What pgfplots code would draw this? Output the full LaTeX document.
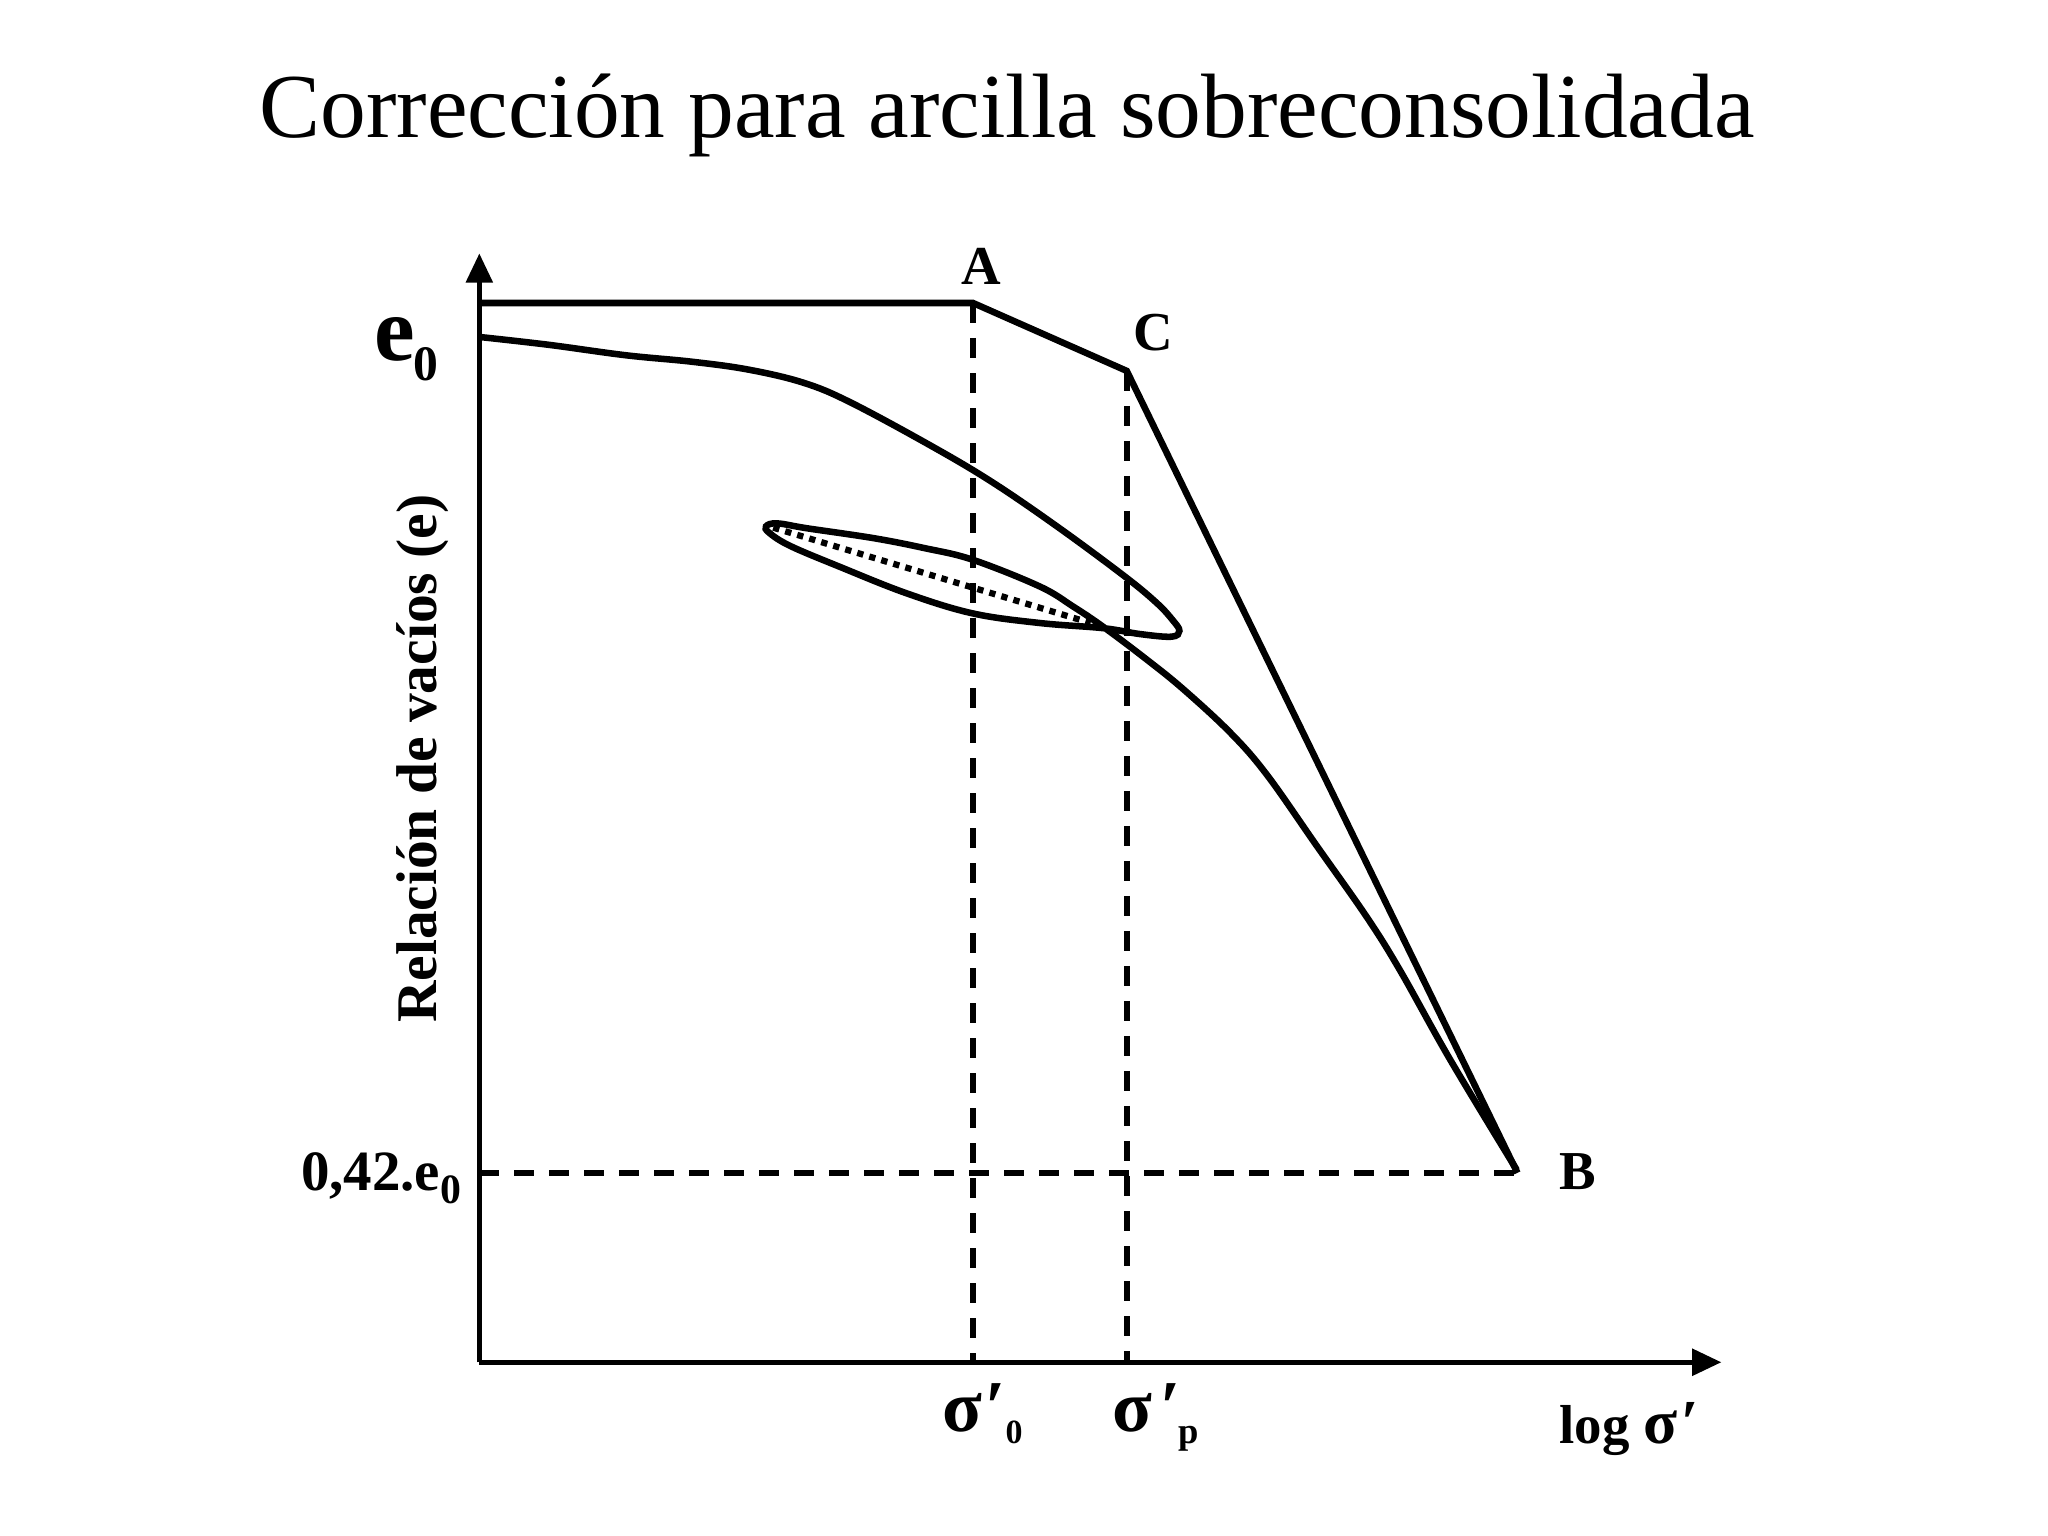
\documentclass[border=0pt]{standalone}
\usepackage{fontspec}
\setmainfont{Liberation Serif}
\usepackage{pgfplots}
\pgfplotsset{compat=1.18}
\usetikzlibrary{arrows.meta}
\begin{document}
\begin{tikzpicture}
\begin{axis}[
  x=0.25pt, y=0.25pt,
  xmin=0, xmax=951, ymin=0, ymax=849,
  axis x line*=bottom, axis y line*=left,
  axis line style={line width=1.0pt, -{Triangle[length=5.6pt,width=5pt]}},
  ticks=none,
  clip=false,
]
\path (axis cs:-367,-133) rectangle (axis cs:1201,1043);
% e-log sigma envelope A-C-B
\addplot[line width=1.25pt, line join=miter] coordinates {(0,811) (378,811) (495.7,759) (794.8,145)};
% laboratory curve with unloading-reloading loop
\addplot[line width=1.25pt, smooth, tension=0.6] coordinates {
(0,785) (53,779) (112,771) (163,766) (206,760) (248,750) (284,735)
(347,701) (394,673) (445,638) (495,601) (519,581) (531,568) (536,560)
(530,555.5) (506,557.5) (478,562) (429,566) (377.5,573.4) (327.2,588.7) (276,609) (238,625) (222,635)
(219.5,640)
(228,642.3) (251,638.5) (301.6,631) (340,623.5) (377.5,614.5) (429,594) (454.8,578.5) (477.8,563)
(511,538) (539,515.3) (575,482) (602.9,449.9) (641.2,395.3) (679.5,340.8) (705,299.9)
(743.3,231.7) (794.3,147.2)};
% dotted chord
\addplot[line width=1.2pt, dash pattern=on 1.2pt off 1.2pt] coordinates {(225,639) (468,566)};
% dashed guides
\addplot[line width=1.2pt, dash pattern=on 3.8pt off 2.9pt] coordinates {(378,811) (378,0)};
\addplot[line width=1.2pt, dash pattern=on 3.8pt off 2.9pt] coordinates {(495.7,759) (495.7,0)};
\addplot[line width=1.2pt, dash pattern=on 3.8pt off 2.9pt] coordinates {(0,145) (794,145)};
% texts
\node[anchor=base] at (axis cs:404,938) {\fontsize{17.5}{20}\selectfont Corrección para arcilla sobreconsolidada};
\node[anchor=base, inner sep=0] at (axis cs:384.5,825) {\bfseries\fontsize{10.5}{12}\selectfont A};
\node[anchor=base west, inner sep=0] at (axis cs:500,774.5) {\bfseries\fontsize{10.5}{12}\selectfont C};
\node[anchor=base, inner sep=0] at (axis cs:841,132) {\bfseries\fontsize{10.5}{12}\selectfont B};
\node[anchor=base west, inner sep=0] at (axis cs:-81,767) {\bfseries\fontsize{17.5}{18}\selectfont e\kern-0.3pt\raisebox{-3.8pt}{\fontsize{9.5}{10}\selectfont 0}};
\node[anchor=base west, inner sep=0] at (axis cs:-137.3,131.8) {\bfseries\fontsize{10.9}{12}\selectfont 0,42.e\raisebox{-2.5pt}{\fontsize{8}{9}\selectfont 0}};
\node[anchor=base, rotate=90, inner sep=0] at (axis cs:-32.6,462) {\bfseries\fontsize{11}{12}\selectfont Relación de vacíos (e)};
\node[anchor=base west, inner sep=0] at (axis cs:354,-53) {\bfseries\fontsize{14}{15}\selectfont σ\kern0.5pt′\kern0pt\raisebox{-2.25pt}{\fontsize{6.5}{7}\selectfont 0}};
\node[anchor=base west, inner sep=0] at (axis cs:484,-53) {\bfseries\fontsize{14}{15}\selectfont σ\kern1.6pt′\kern-0.6pt\raisebox{-2.25pt}{\fontsize{7}{7}\selectfont p}};
\node[anchor=base west, inner sep=0] at (axis cs:826.2,-62) {\bfseries\fontsize{10.5}{12}\selectfont log\ {\fontsize{12}{12}\selectfont σ\kern0.8pt′}};
\end{axis}
\end{tikzpicture}
\end{document}
